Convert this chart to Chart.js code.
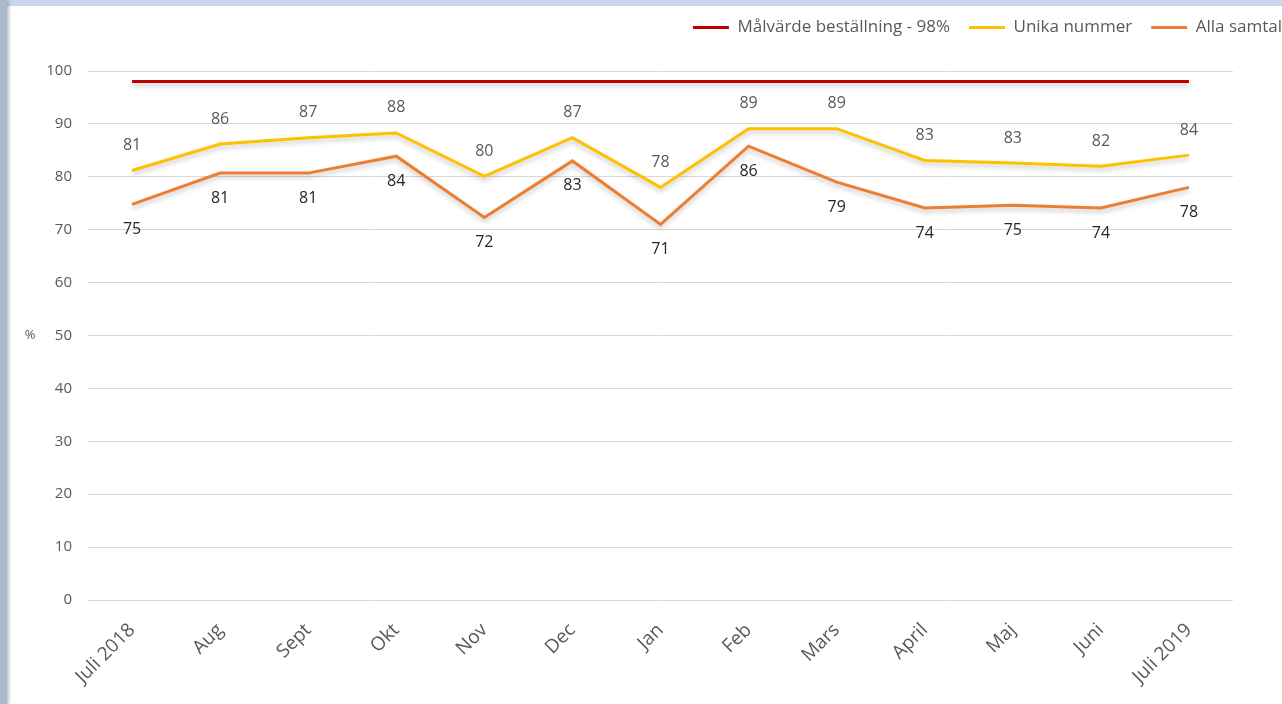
<!DOCTYPE html>
<html>
<head>
<meta charset="utf-8">
<script src="https://cdn.jsdelivr.net/npm/chart.js@4"></script>
<style>
  html, body { margin: 0; padding: 0; overflow: hidden; background: #fff; }
  #wrap { position: relative; width: 1282px; height: 704px; overflow: hidden; }
  #topStrip { position: absolute; left: 0; top: 0; width: 1282px; height: 6px; background: #c7d7ee; }
  #leftStrip { position: absolute; left: 0; top: 0; width: 7px; height: 704px; background: #a9b8cb; box-shadow: 2px 0 3px rgba(120,130,150,0.5); }
</style>
</head>
<body>
<div id="wrap">
  <canvas id="graph" width="1301" height="704"></canvas>
  <div id="topStrip"></div>
  <div id="leftStrip"></div>
</div>
<script>
// === DATA === //

const months = ["Juli 2018", "Aug", "Sept", "Okt", "Nov", "Dec", "Jan", "Feb", "Mars", "April", "Maj", "Juni", "Juli 2019"]
const targetValues = [98, 98, 98, 98, 98, 98, 98, 98, 98, 98, 98, 98, 98]
const uniqueNumbers = [81.2, 86.2, 87.4, 88.3, 80.1, 87.4, 78.0, 89.1, 89.1, 83.1, 82.6, 82.0, 84.1]
const allCalls = [74.8, 80.7, 80.7, 83.9, 72.3, 83.0, 71.0, 85.8, 79.0, 74.1, 74.6, 74.1, 78.0]
const yTicks = { min: 0, max: 100, step: 10 }

const font = '"Open Sans", sans-serif'

// === PLUGINS === //

const lineShadow = {
  id: 'lineShadow',
  beforeDatasetsDraw(chart) {
    const ctx = chart.ctx
    ctx.save()
    ctx.shadowColor = 'rgba(0,0,0,0.22)'
    ctx.shadowBlur = 5
    ctx.shadowOffsetY = 3
  },
  afterDatasetsDraw(chart) {
    chart.ctx.restore()
  }
}

const valueLabels = {
  id: 'valueLabels',
  afterDatasetsDraw(chart) {
    const ctx = chart.ctx
    ctx.save()
    ctx.font = '16px ' + font
    ctx.textAlign = 'center'
    ctx.textBaseline = 'middle'
    chart.data.datasets.forEach((ds, i) => {
      if (!ds.labelPos) return
      const meta = chart.getDatasetMeta(i)
      meta.data.forEach((pt, j) => {
        const dy = ds.labelPos == 'above' ? -25 : 25
        ctx.fillStyle = ds.labelColor
        ctx.fillText(Math.round(ds.data[j]), pt.x, pt.y + dy)
      })
    })
    ctx.restore()
  }
}

const percentTitle = {
  id: 'percentTitle',
  afterDraw(chart) {
    const ctx = chart.ctx
    const area = chart.chartArea
    ctx.save()
    ctx.font = '13px ' + font
    ctx.fillStyle = '#595959'
    ctx.textAlign = 'center'
    ctx.textBaseline = 'middle'
    ctx.fillText('%', 30, (area.top + area.bottom) / 2)
    ctx.restore()
  }
}

// === CHART === //

const data = {
  labels: months,
  datasets: [{
    label: 'Målvärde beställning - 98%',
    data: targetValues,
    borderColor: '#c00000',
    backgroundColor: '#c00000',
    borderWidth: 3,
    pointRadius: 0
  }, {
    label: 'Unika nummer',
    data: uniqueNumbers,
    borderColor: '#ffc000',
    backgroundColor: '#ffc000',
    borderWidth: 3,
    pointRadius: 0,
    labelPos: 'above',
    labelColor: '#595959'
  }, {
    label: 'Alla samtal',
    data: allCalls,
    borderColor: '#ed7d31',
    backgroundColor: '#ed7d31',
    borderWidth: 3,
    pointRadius: 0,
    labelPos: 'below',
    labelColor: '#262626'
  }]
}

const config = {
  type: 'line',
  data,
  options: {
    responsive: false,
    animation: false,
    layout: { padding: { top: 0, left: 0, right: 0, bottom: 5 } },
    plugins: {
      tooltip: { enabled: false },
      legend: {
        position: 'top',
        align: 'end',
        labels: {
          usePointStyle: true,
          pointStyle: 'line',
          pointStyleWidth: 36,
          padding: 19,
          color: '#595959',
          font: { family: font, size: 17 }
        }
      }
    },
    scales: {
      x: {
        offset: true,
        grid: { display: false },
        border: { display: false },
        ticks: {
          color: '#595959',
          font: { family: font, size: 19 },
          minRotation: 45,
          maxRotation: 45,
          padding: 11
        }
      },
      xTop: {
        position: 'top',
        afterFit(scale) { scale.height = 25 },
        grid: { display: false },
        border: { display: false },
        ticks: { display: false }
      },
      y: {
        min: yTicks.min,
        max: yTicks.max,
        afterFit(scale) { scale.width = 88 },
        grid: { color: '#d9d9d9', drawTicks: false, lineWidth: 1 },
        border: { display: false },
        ticks: {
          stepSize: yTicks.step,
          color: '#595959',
          padding: 16,
          font: { family: font, size: 15 }
        }
      },
      yRight: {
        position: 'right',
        afterFit(scale) { scale.width = 68 },
        grid: { display: false },
        border: { display: false },
        ticks: { display: false }
      }
    }
  },
  plugins: [lineShadow, valueLabels, percentTitle]
}

new Chart(document.getElementById('graph'), config)
</script>
</body>
</html>
